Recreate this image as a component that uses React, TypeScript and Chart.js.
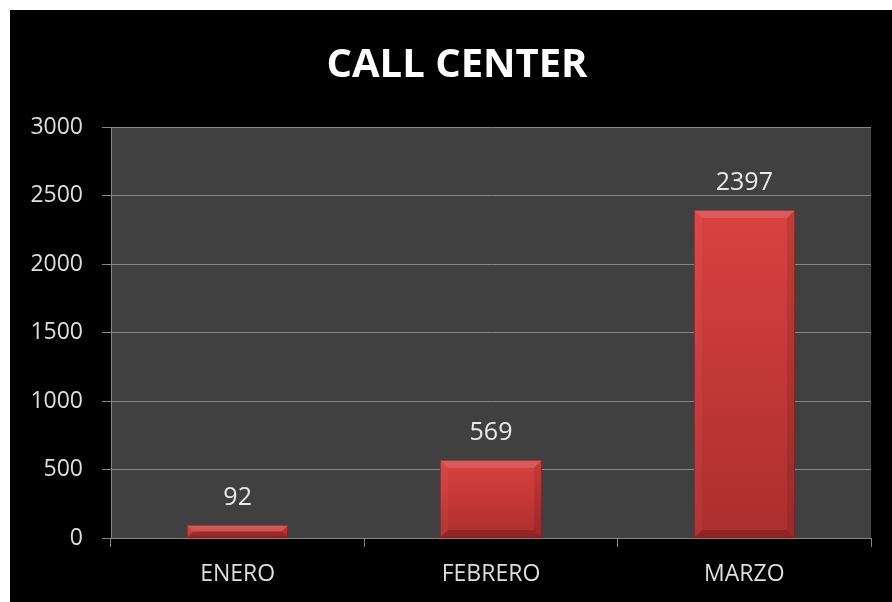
import React, { useEffect, useRef } from "react";
import { Chart, registerables } from "chart.js";

Chart.register(...registerables);

const TITLE = "CALL CENTER";
const CATEGORIES = ["ENERO", "FEBRERO", "MARZO"];
const VALUES = [92, 569, 2397];
const Y_MIN = 0;
const Y_MAX = 3000;
const Y_STEP = 500;

const FONT = "'Open Sans', 'DejaVu Sans', sans-serif";
const GRID = "#868686";
const TICK_COLOR = "#dedede";

const plotBg = {
  id: "plotBg",
  beforeDraw(chart: any) {
    const { ctx, chartArea: a } = chart;
    if (!a) return;
    ctx.save();
    ctx.fillStyle = "#404040";
    ctx.fillRect(a.left, a.top, a.right - a.left, a.bottom - a.top);
    ctx.restore();
  },
};

const titlePlugin = {
  id: "titleCustom",
  afterDraw(chart: any) {
    const { ctx } = chart;
    ctx.save();
    ctx.fillStyle = "#ffffff";
    ctx.font = `bold 40px ${FONT}`;
    ctx.textAlign = "center";
    ctx.textBaseline = "alphabetic";
    ctx.fillText(TITLE, 447, 67);
    ctx.restore();
  },
};

const bevelBars = {
  id: "bevelBars",
  afterDatasetsDraw(chart: any) {
    const { ctx } = chart;
    const meta = chart.getDatasetMeta(0);
    meta.data.forEach((bar: any, i: number) => {
      const { x, y, base, width } = bar.getProps(["x", "y", "base", "width"], true);
      const left = Math.round(x - width / 2);
      const right = Math.round(x + width / 2);
      const top = Math.round(y);
      const bottom = Math.round(base);
      const h = bottom - top;
      const w = right - left;
      ctx.save();
      const g = ctx.createLinearGradient(0, top, 0, bottom);
      g.addColorStop(0, "#d94240");
      g.addColorStop(1, "#ac2e2e");
      ctx.fillStyle = g;
      ctx.fillRect(left, top, w, h);
      const b = Math.min(8, h / 2, w / 2);
      const poly = (pts: number[][], color: string) => {
        ctx.beginPath();
        ctx.moveTo(pts[0][0], pts[0][1]);
        for (let k = 1; k < pts.length; k++) ctx.lineTo(pts[k][0], pts[k][1]);
        ctx.closePath();
        ctx.fillStyle = color;
        ctx.fill();
      };
      poly([[left, top], [right, top], [right - b, top + b], [left + b, top + b]], "rgba(255,255,255,0.13)");
      poly([[left, top], [left + b, top + b], [left + b, bottom - b], [left, bottom]], "rgba(255,255,255,0.04)");
      poly([[right, top], [right, bottom], [right - b, bottom - b], [right - b, top + b]], "rgba(0,0,0,0.1)");
      poly([[left, bottom], [left + b, bottom - b], [right - b, bottom - b], [right, bottom]], "rgba(0,0,0,0.18)");
      ctx.strokeStyle = "rgba(110,20,20,0.5)";
      ctx.lineWidth = 1;
      ctx.strokeRect(left + 0.5, top + 0.5, w - 1, h - 1);

      // data label
      ctx.fillStyle = "#e8e8e8";
      ctx.font = `25px ${FONT}`;
      ctx.textAlign = "center";
      ctx.textBaseline = "alphabetic";
      ctx.fillText(String(VALUES[i]), x, top - 20);
      ctx.restore();
    });
  },
};

export default function App() {
  const ref = useRef<HTMLCanvasElement | null>(null);

  useEffect(() => {
    if (!ref.current) return;
    const chart = new Chart(ref.current, {
      type: "bar",
      data: {
        labels: CATEGORIES,
        datasets: [
          {
            data: VALUES,
            backgroundColor: "rgba(0,0,0,0)",
            borderWidth: 0,
            categoryPercentage: 1,
            barPercentage: 0.4,
          },
        ],
      },
      options: {
        responsive: false,
        animation: false,
        layout: { padding: { top: 117, right: 21, left: 0, bottom: 0 } },
        plugins: {
          legend: { display: false },
          tooltip: { enabled: false },
          title: { display: false },
        },
        scales: {
          x: {
            grid: {
              offset: true,
              drawOnChartArea: false,
              drawTicks: true,
              tickLength: 9,
              color: GRID,
            },
            border: { display: true, color: GRID },
            ticks: { color: TICK_COLOR, font: { family: FONT, size: 23 }, padding: 14 },
            afterFit: (s: any) => {
              s.height = 64;
            },
          },
          y: {
            min: Y_MIN,
            max: Y_MAX,
            grid: { color: GRID, tickLength: 9, drawTicks: true },
            border: { display: true, color: GRID },
            ticks: {
              stepSize: Y_STEP,
              color: TICK_COLOR,
              font: { family: FONT, size: 23 },
              padding: 19,
              callback: (v: any) => String(v),
            },
            afterFit: (s: any) => {
              s.width = 101;
            },
          },
        },
      },
      plugins: [plotBg, bevelBars, titlePlugin],
    });
    return () => chart.destroy();
  }, []);

  return (
    <div
      style={{
        position: "fixed",
        left: 10,
        top: 10,
        width: 882,
        height: 592,
        background: "#000",
      }}
    >
      <canvas ref={ref} width={882} height={592} style={{ display: "block" }} />
    </div>
  );
}
